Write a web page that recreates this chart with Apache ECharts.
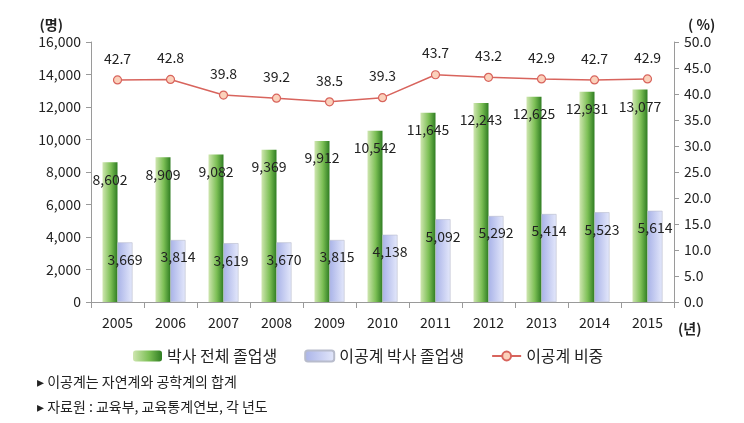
<!DOCTYPE html>
<html>
<head>
<meta charset="utf-8">
<script src="https://cdn.jsdelivr.net/npm/echarts@6/dist/echarts.min.js"></script>
<style>
  html, body { margin: 0; padding: 0; background: #fff; }
  #chart { width: 744px; height: 423px; }
</style>
</head>
<body>
<div id="chart"></div>
<script>
const years = ['2005', '2006', '2007', '2008', '2009', '2010', '2011', '2012', '2013', '2014', '2015'];
const totalGrads = [8602, 8909, 9082, 9369, 9912, 10542, 11645, 12243, 12625, 12931, 13077];
const steGrads = [3669, 3814, 3619, 3670, 3815, 4138, 5092, 5292, 5414, 5523, 5614];
const steShare = [42.7, 42.8, 39.8, 39.2, 38.5, 39.3, 43.7, 43.2, 42.9, 42.7, 42.9];
const notes = ['▸ 이공계는 자연계와 공학계의 합계', '▸ 자료원 : 교육부, 교육통계연보, 각 년도'];

const FONT = '"Noto Sans CJK KR", "Noto Sans", sans-serif';
const chart = echarts.init(document.getElementById('chart'));

const fmt = v => v.toLocaleString('en-US');

const greenFill = new echarts.graphic.LinearGradient(0, 0, 1, 0, [
    { offset: 0, color: '#cfe6b0' },
    { offset: 0.55, color: '#7cbf55' },
    { offset: 1, color: '#2f7d22' }
]);
const blueFill = new echarts.graphic.LinearGradient(0, 0, 1, 0, [
    { offset: 0, color: '#a9b3e8' },
    { offset: 1, color: '#e4e8fb' }
]);

const axisGray = '#9a9a9a';

const option = {
    backgroundColor: '#fff',
    textStyle: { fontFamily: FONT },
    grid: { left: 91, right: 70, top: 42, bottom: 121 },
    legend: {
        left: 128,
        top: 343,
        itemWidth: 29,
        itemHeight: 11,
        itemGap: 27,
        textStyle: { fontFamily: FONT, fontSize: 16, color: '#222' },
        data: ['박사 전체 졸업생', '이공계 박사 졸업생', '이공계 비중']
    },
    xAxis: {
        type: 'category',
        data: years,
        axisLine: { lineStyle: { color: axisGray } },
        axisTick: { show: true, alignWithLabel: false, length: 6, lineStyle: { color: axisGray } },
        axisLabel: { fontFamily: FONT, fontSize: 14, color: '#222', margin: 14 },
        name: '(년)',
        nameLocation: 'end',
        nameGap: 4,
        nameTextStyle: { fontFamily: FONT, fontSize: 14, fontWeight: 'bold', color: '#222', verticalAlign: 'top', padding: [20, 0, 0, 0] }
    },
    yAxis: [
        {
            type: 'value',
            min: 0,
            max: 16000,
            interval: 2000,
            splitLine: { show: false },
            axisLine: { show: true, lineStyle: { color: axisGray } },
            axisTick: { show: true, length: 5, lineStyle: { color: axisGray } },
            axisLabel: { fontFamily: FONT, fontSize: 14, color: '#222', margin: 10, formatter: v => fmt(v) },
            name: '(명)',
            nameGap: 10,
            nameTextStyle: { fontFamily: FONT, fontSize: 14, fontWeight: 'bold', color: '#222', align: 'right', padding: [0, 28, 0, 0] }
        },
        {
            type: 'value',
            min: 0,
            max: 50,
            interval: 5,
            splitLine: { show: false },
            axisLine: { show: true, lineStyle: { color: axisGray } },
            axisTick: { show: true, length: 5, lineStyle: { color: axisGray } },
            axisLabel: { fontFamily: FONT, fontSize: 14, color: '#222', margin: 10, formatter: v => v.toFixed(1) },
            name: '( %)',
            nameGap: 10,
            nameTextStyle: { fontFamily: FONT, fontSize: 14, fontWeight: 'bold', color: '#222', align: 'left', padding: [0, 0, 0, 14] }
        }
    ],
    series: [
        {
            name: '박사 전체 졸업생',
            type: 'bar',
            data: totalGrads,
            barWidth: 15,
            barGap: '0%',
            itemStyle: { color: greenFill },
            label: {
                show: true,
                position: 'insideTop',
                distance: 10,
                fontFamily: FONT,
                fontSize: 14,
                color: '#222',
                formatter: p => fmt(p.value)
            },
            z: 2
        },
        {
            name: '이공계 박사 졸업생',
            type: 'bar',
            data: steGrads,
            barWidth: 15,
            itemStyle: { color: blueFill, borderColor: '#b8bccc', borderWidth: 0.6 },
            label: {
                show: true,
                position: 'insideTop',
                distance: 10,
                fontFamily: FONT,
                fontSize: 14,
                color: '#222',
                formatter: p => fmt(p.value)
            },
            z: 2
        },
        {
            name: '이공계 비중',
            type: 'line',
            yAxisIndex: 1,
            data: steShare,
            symbol: 'circle',
            symbolSize: 8,
            lineStyle: { color: '#d8645d', width: 1.5 },
            itemStyle: { color: '#fbd1bb', borderColor: '#d8645d', borderWidth: 1.2 },
            label: {
                show: true,
                position: 'top',
                distance: 10,
                fontFamily: FONT,
                fontSize: 14,
                color: '#222',
                formatter: p => p.value.toFixed(1)
            },
            z: 5
        }
    ],
    graphic: notes.map((t, i) => ({
        type: 'text',
        left: 37,
        top: 375 + i * 25,
        style: { text: t, fontFamily: FONT, fontSize: 14, fill: '#222' }
    }))
};

chart.setOption(option);
</script>
</body>
</html>
